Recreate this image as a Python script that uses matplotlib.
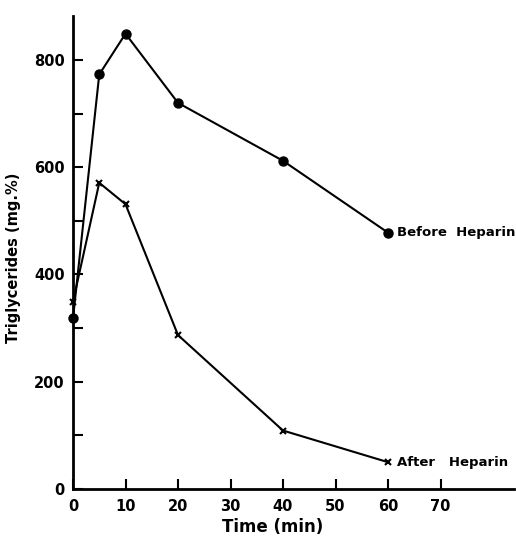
import matplotlib
matplotlib.use("Agg")
import matplotlib.pyplot as plt

# Triglycerides vs time
time_min = [0, 5, 10, 20, 40, 60]
before_heparin = [318, 773, 849, 720, 612, 478]
after_heparin = [349, 571, 531, 287, 109, 50]

x_ticks = [0, 10, 20, 30, 40, 50, 60, 70]
y_major = [0, 200, 400, 600, 800]
y_minor = [100, 300, 500, 700]

fig = plt.figure(figsize=(5.16, 5.4), dpi=100)
ax = fig.add_axes([73 / 516, 51 / 540, 441 / 516, 473 / 540])

ax.plot(time_min, before_heparin, color="black", linewidth=1.5,
        marker="o", markersize=6.5, clip_on=False)
ax.plot(time_min, after_heparin, color="black", linewidth=1.5,
        marker="x", markersize=4.5, markeredgewidth=1.5, clip_on=False)

ax.text(time_min[-1] + 1.8, before_heparin[-1], "Before  Heparin",
        fontsize=9.5, fontweight="bold", va="center", ha="left")
ax.text(time_min[-1] + 1.8, after_heparin[-1], "After   Heparin",
        fontsize=9.5, fontweight="bold", va="center", ha="left")

ax.set_xlim(0, 84)
ax.set_ylim(0, 882)
ax.set_xticks(x_ticks)
ax.set_yticks(y_major)
ax.set_yticks(y_minor, minor=True)

for side in ("top", "right"):
    ax.spines[side].set_visible(False)
for side in ("left", "bottom"):
    ax.spines[side].set_linewidth(2)

ax.tick_params(axis="both", which="both", direction="in", width=1.5,
               length=7, labelsize=10.5)
ax.tick_params(axis="y", pad=6)
ax.tick_params(axis="x", pad=7)
for lbl in ax.get_xticklabels() + ax.get_yticklabels():
    lbl.set_fontweight("bold")

ax.set_xlabel("Time (min)", fontsize=12, fontweight="bold")
ax.xaxis.set_label_coords(0.452, -0.061)
ax.set_ylabel("Triglycerides (mg.%)", fontsize=10.5, fontweight="bold")
ax.yaxis.set_label_coords(-0.118, 0.488)

plt.savefig("out.png", dpi=100)
